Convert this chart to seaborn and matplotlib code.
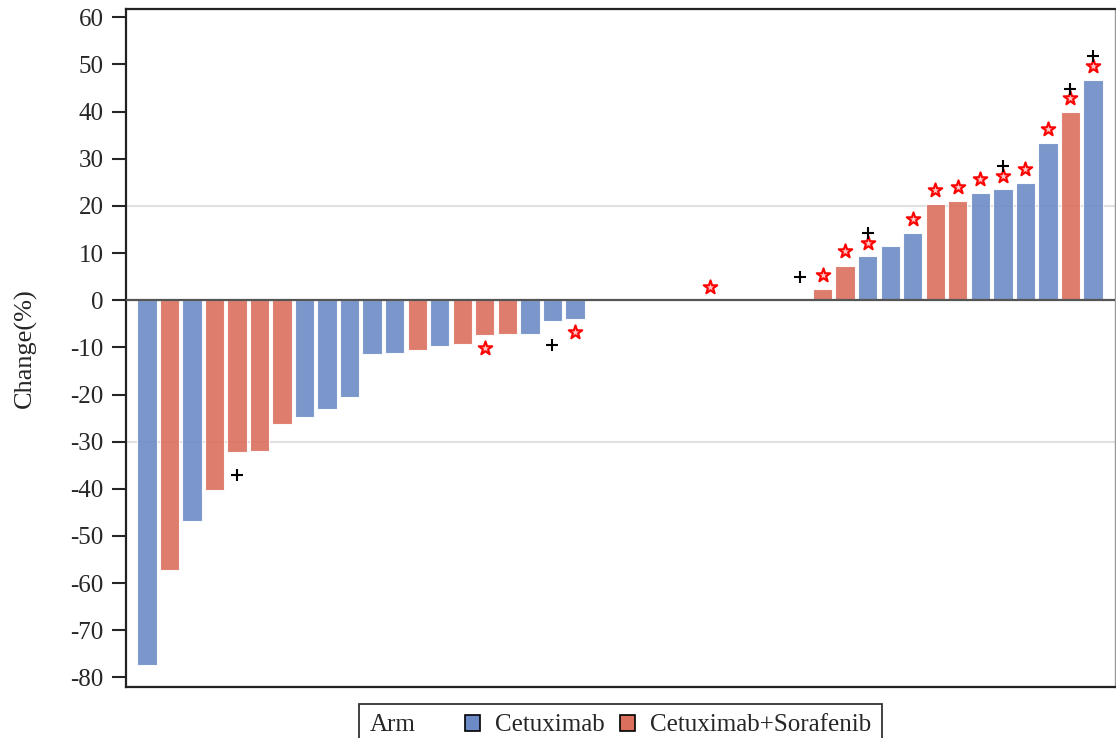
import numpy as np
import pandas as pd
import matplotlib
matplotlib.use("Agg")
import matplotlib.pyplot as plt
import seaborn as sns
from matplotlib.patches import Patch
from matplotlib.offsetbox import HPacker

# one slot per patient, sorted by change; nan = no bar drawn
patient = list(range(43))
arm = ["Cetuximab", "Cetuximab+Sorafenib", "Cetuximab", "Cetuximab+Sorafenib",
       "Cetuximab+Sorafenib", "Cetuximab+Sorafenib", "Cetuximab+Sorafenib",
       "Cetuximab", "Cetuximab", "Cetuximab", "Cetuximab", "Cetuximab",
       "Cetuximab+Sorafenib", "Cetuximab", "Cetuximab+Sorafenib",
       "Cetuximab+Sorafenib", "Cetuximab+Sorafenib", "Cetuximab", "Cetuximab",
       "Cetuximab"] + ["Cetuximab"] * 10 + [
       "Cetuximab+Sorafenib", "Cetuximab+Sorafenib", "Cetuximab", "Cetuximab",
       "Cetuximab", "Cetuximab+Sorafenib", "Cetuximab+Sorafenib", "Cetuximab",
       "Cetuximab", "Cetuximab", "Cetuximab", "Cetuximab+Sorafenib", "Cetuximab"]
change = [-77.3, -57.2, -46.9, -40.3, -32.2, -32.0, -26.3, -24.8, -23.1, -20.6,
          -11.4, -11.2, -10.6, -9.8, -9.2, -7.4, -7.1, -7.1, -4.4, -3.9] + \
         [np.nan] * 10 + \
         [2.4, 7.3, 9.4, 11.6, 14.3, 20.4, 21.1, 22.7, 23.5, 24.8, 33.3, 40.0, 46.8]

# marker annotations
star_x = [15, 19, 25, 30, 31, 32, 34, 35, 36, 37, 38, 39, 40, 41, 42]
star_y = [-10.2, -6.7, 2.9, 5.3, 10.5, 12.1, 17.2, 23.4, 24.0, 25.8, 26.4, 27.8, 36.3, 42.9, 49.7]
plus_x = [4, 18, 29, 32, 38, 41, 42]
plus_y = [-37.1, -9.5, 4.9, 14.3, 28.4, 44.9, 51.7]

arm_order = ["Cetuximab", "Cetuximab+Sorafenib"]
arm_colors = {"Cetuximab": "#6C8BC6", "Cetuximab+Sorafenib": "#DB6F5E"}

df = pd.DataFrame({"patient": patient, "arm": arm, "change": change})

sns.set_style("white")
plt.rcParams["font.family"] = ["Liberation Serif", "DejaVu Serif"]
plt.rcParams["axes.unicode_minus"] = False

fig = plt.figure(figsize=(11.16, 7.38), dpi=100)
ax = fig.add_axes([0.1129, 0.0687, 0.8862, 0.9187])

ax.axhline(20, color="#e0e0e0", lw=1.5, zorder=1)
ax.axhline(-30, color="#e0e0e0", lw=1.5, zorder=1)
ax.axhline(0, color="#555555", lw=1.6, zorder=4)

sns.barplot(data=df, x="patient", y="change", hue="arm", order=patient,
            hue_order=arm_order, palette=arm_colors, dodge=False, width=0.86,
            edgecolor="#ffffff", linewidth=0.8, saturation=1, alpha=0.9,
            legend=False, errorbar=None, ax=ax, zorder=2)

sns.scatterplot(x=star_x, y=star_y, marker="*", s=105, color="#ffc4c4",
                edgecolor="red", linewidth=1.5, ax=ax, zorder=5)
sns.scatterplot(x=plus_x, y=plus_y, marker="+", s=80, color="black",
                linewidth=1.5, ax=ax, zorder=5)

ax.set_xlim(-0.93, 42.98)
ax.set_ylim(-82.1, 61.7)
ax.set_yticks(range(-80, 61, 10))
ax.set_xticks([])
ax.set_xlabel("")
ax.set_ylabel("Change(%)", fontsize=19, labelpad=24)
ax.tick_params(axis="y", length=10, width=1.5, direction="out", labelsize=18, pad=6, left=True)
for side in ["left", "bottom", "top"]:
    ax.spines[side].set_color("#222222")
    ax.spines[side].set_linewidth(1.6)
ax.spines["right"].set_color("#999999")
ax.spines["right"].set_linewidth(1.0)

handles = [Patch(facecolor=arm_colors[a], edgecolor="black", linewidth=1.2) for a in arm_order]
leg = fig.legend(handles, arm_order, title="Arm", loc="upper center",
                 bbox_to_anchor=(0.556, 0.046), borderaxespad=0, ncol=2,
                 fontsize=18, title_fontsize=18, frameon=True, fancybox=False,
                 edgecolor="black", borderpad=0.3, handlelength=0.6, handleheight=0.6,
                 handletextpad=0.6, columnspacing=0.6)
leg.get_frame().set_linewidth(1.3)
# put the title on the same row as the entries
title_box, entry_box = leg._legend_box.get_children()
leg._legend_box = HPacker(pad=0.3 * 18 * 100 / 72, sep=36, align="center",
                          children=[title_box, entry_box])
leg._legend_box.set_figure(fig)
leg._legend_box.set_offset(leg._findoffset)

fig.savefig("out.png", dpi=100)
